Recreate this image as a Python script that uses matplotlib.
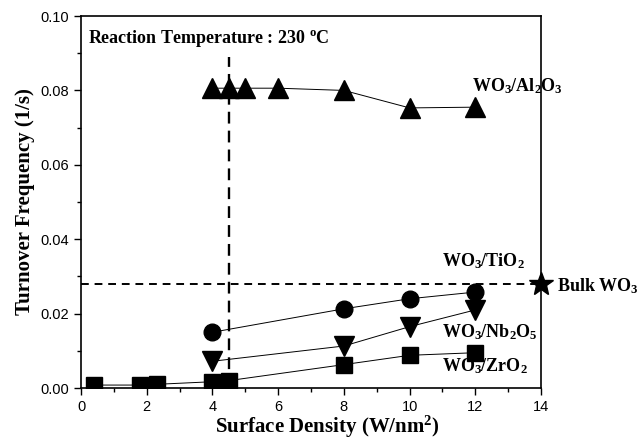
import matplotlib
matplotlib.use('Agg')
import matplotlib.pyplot as plt
from matplotlib.ticker import MultipleLocator

plt.rcParams['font.family'] = ['Liberation Sans', 'DejaVu Sans']
plt.rcParams['mathtext.fontset'] = 'custom'
plt.rcParams['mathtext.rm'] = 'Liberation Serif:bold'
plt.rcParams['mathtext.bf'] = 'Liberation Serif:bold'
plt.rcParams['mathtext.it'] = 'Liberation Serif:bold'

# data
al_x = [4, 4.5, 5, 6, 8, 10, 12]
al_y = [0.0806, 0.0806, 0.0806, 0.0806, 0.0800, 0.0753, 0.0755]

ti_x = [4, 8, 10, 12]
ti_y = [0.0150, 0.0213, 0.0240, 0.0258]

nb_x = [4, 8, 10, 12]
nb_y = [0.0072, 0.0113, 0.0165, 0.0210]

zr_x = [0.4, 1.8, 2.3, 4, 4.5, 8, 10, 12]
zr_y = [0.0008, 0.0008, 0.0010, 0.0017, 0.0020, 0.0063, 0.0088, 0.0095]

bulk_x = 14
bulk_y = 0.028
mono_x = 4.5
mono_top = 0.089

serif = 'Liberation Serif'

fig = plt.figure(figsize=(6.38, 4.45), dpi=100)
ax = fig.add_axes([0.127, 0.128, 0.721, 0.836])

ax.plot(al_x, al_y, color='black', lw=0.7, zorder=1)
ax.plot(al_x, al_y, '^', color='black', ms=14, zorder=3)
ax.plot(ti_x, ti_y, color='black', lw=0.7, zorder=1)
ax.plot(ti_x, ti_y, 'o', color='black', ms=12, zorder=3)
ax.plot(nb_x, nb_y, color='black', lw=0.7, zorder=1)
ax.plot(nb_x, nb_y, 'v', color='black', ms=14, zorder=3)
ax.plot(zr_x, zr_y, color='black', lw=0.7, zorder=1)
ax.plot(zr_x, zr_y, 's', color='black', ms=11, zorder=3)

ax.axhline(bulk_y, color='black', ls=(0, (4, 3)), lw=1.4, zorder=2)
ax.plot([mono_x, mono_x], [0, mono_top], color='black', ls=(0, (5, 3)), lw=1.7, zorder=2)
ax.plot(bulk_x, bulk_y, '*', color='black', ms=18, clip_on=False, zorder=4)

ax.set_xlim(0, 14)
ax.set_ylim(0, 0.10)
ax.xaxis.set_major_locator(MultipleLocator(2))
ax.xaxis.set_minor_locator(MultipleLocator(1))
ax.yaxis.set_major_locator(MultipleLocator(0.02))
ax.yaxis.set_minor_locator(MultipleLocator(0.01))
ax.yaxis.set_major_formatter(plt.FormatStrFormatter('%.2f'))
ax.tick_params(which='major', direction='out', length=5, width=1, labelsize=10.5)
ax.tick_params(which='minor', direction='out', length=3, width=1)
for sp in ax.spines.values():
    sp.set_linewidth(1.2)

ax.set_xlabel('Surface Density (W/nm$^{2}$)', family=serif, fontweight='bold', fontsize=15)
ax.xaxis.set_label_coords(0.535, -0.068)
ax.set_ylabel('Turnover Frequency (1/s)', family=serif, fontweight='bold', fontsize=15, labelpad=4)

txt = dict(family=serif, fontweight='bold', fontsize=13)
ax.text(0.2, 0.094, 'Reaction Temperature : 230 $^{\\rm o}$C', va='center', **txt)
ax.text(11.9, 0.0812, 'WO$_3$/Al$_2$O$_3$', va='center', **txt)
ax.text(11.0, 0.0340, 'WO$_3$/TiO$_2$', va='center', **txt)
ax.text(11.0, 0.0150, 'WO$_3$/Nb$_2$O$_5$', va='center', **txt)
ax.text(11.0, 0.0060, 'WO$_3$/ZrO$_2$', va='center', **txt)
ax.text(14.5, 0.0275, 'Bulk WO$_3$', va='center', clip_on=False, **txt)

plt.savefig('out.png', dpi=100)
